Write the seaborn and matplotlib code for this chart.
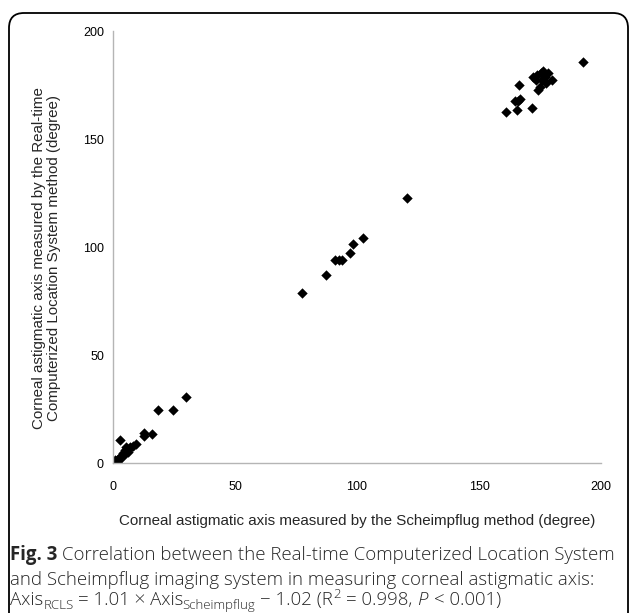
import matplotlib
matplotlib.use("Agg")
import matplotlib.pyplot as plt
import seaborn as sns
import pandas as pd
from matplotlib.patches import FancyBboxPatch

# Data
scheimpflug = [0.5, 1, 1.5, 2, 2.5, 3, 3, 4, 4.5, 5, 5.5, 6, 6.5, 7, 8, 9.5,
               12.5, 12.5, 16, 18.5, 24.5, 30,
               77.3, 87.3, 91, 92.8, 93.7, 97.1, 98.5, 102.3, 120.4,
               161.1, 165.4, 171.6, 164.8, 166.8, 166.0, 166.5, 176.1, 178.4,
               173.9, 179.8, 173.4, 175.7, 175.0, 177.5, 174.3, 172.3, 177.0,
               175.5, 192.7]
rcls = [0.5, 1.5, 0.5, 2, 1.5, 3, 10.5, 4.5, 3.5, 6, 7.5, 5, 6.5, 7.5, 8, 9,
        14, 12.5, 13.5, 24.5, 24.5, 30.5,
        78.8, 87, 94, 94, 94, 97.1, 101.2, 104, 122.5,
        162.7, 163.4, 164.2, 167.6, 168.4, 167.5, 175, 181.6, 180.7,
        179.6, 177.3, 177.3, 177.3, 174.2, 175.8, 172.7, 178.8, 178.8,
        180.5, 185.8]
ticks = [0, 50, 100, 150, 200]

df = pd.DataFrame({"x": scheimpflug, "y": rcls})

sns.set_theme(style="white")
plt.rcParams["font.family"] = ["Liberation Sans", "DejaVu Sans"]

W, H = 630, 613
fig = plt.figure(figsize=(W/100, H/100), dpi=100)
ax = fig.add_axes([113/W, 1 - 463/H, (601-113)/W, (463-31)/H])

sns.scatterplot(data=df, x="x", y="y", marker="D", color="black",
                s=28, edgecolor="black", linewidth=0, ax=ax, legend=False)

ax.set_xlim(0, 200)
ax.set_ylim(0, 200)
ax.set_xticks(ticks)
ax.set_yticks(ticks)
ax.set_xticklabels([str(t) for t in ticks], fontsize=9)
ax.set_yticklabels([str(t) for t in ticks], fontsize=9)
ax.tick_params(axis="both", direction="in", length=5, width=1, color="#b5b5b5",
               labelcolor="black")
ax.tick_params(axis="y", pad=6.5)
ax.tick_params(axis="x", pad=13)
for s in ["top", "right"]:
    ax.spines[s].set_visible(False)
for s in ["left", "bottom"]:
    ax.spines[s].set_color("#b5b5b5")
    ax.spines[s].set_linewidth(1)

ax.set_xlabel("Corneal astigmatic axis measured by the Scheimpflug method (degree)",
              fontsize=10.9, labelpad=15)
ax.set_ylabel("Corneal astigmatic axis measured by the Real-time\n"
              "Computerized Location System method (degree)",
              fontsize=10.9, linespacing=1.05)
ax.yaxis.set_label_coords((61 - 113) / 488, (463 - 258) / 432)

# rounded frame
box = FancyBboxPatch((0.09, -0.2), 6.19, 6.2,
                     boxstyle="round,pad=0,rounding_size=0.15",
                     transform=fig.dpi_scale_trans, facecolor="none",
                     edgecolor="black", linewidth=1.3)
fig.add_artist(box)

# caption
cap_font = ["Open Sans", "DejaVu Sans"]
cs = 13.4
sub = 9.5
renderer = fig.canvas.get_renderer()


def chain(x0, base, pieces):
    x = x0
    for txt, size, dy, weight, style, gap in pieces:
        x += gap
        t = fig.text(x / W, 1 - (base - dy) / H, txt, fontsize=size,
                     fontweight=weight, fontstyle=style, family=cap_font,
                     va="baseline", ha="left")
        x = t.get_window_extent(renderer).x1
    return x


chain(10, 560, [
    ("Fig. 3", cs, 0, "bold", "normal", 0),
    ("Correlation between the Real-time Computerized Location System",
     cs, 0, "light", "normal", 5),
])
chain(10, 585, [
    ("and Scheimpflug imaging system in measuring corneal astigmatic axis:",
     cs, 0, "light", "normal", 0),
])
chain(10, 605, [
    ("Axis", cs, 0, "light", "normal", 0),
    ("RCLS", sub, -4, "light", "normal", 0),
    ("= 1.01 × Axis", cs, 0, "light", "normal", 5),
    ("Scheimpflug", sub, -4, "light", "normal", -1.5),
    ("− 1.02 (R", cs, 0, "light", "normal", 5),
    ("2", sub, 7, "light", "normal", 0.5),
    ("= 0.998,", cs, 0, "light", "normal", 5),
    ("P", cs, 0, "light", "italic", 5),
    ("< 0.001)", cs, 0, "light", "normal", 6),
])

fig.savefig("out.png", dpi=100)
